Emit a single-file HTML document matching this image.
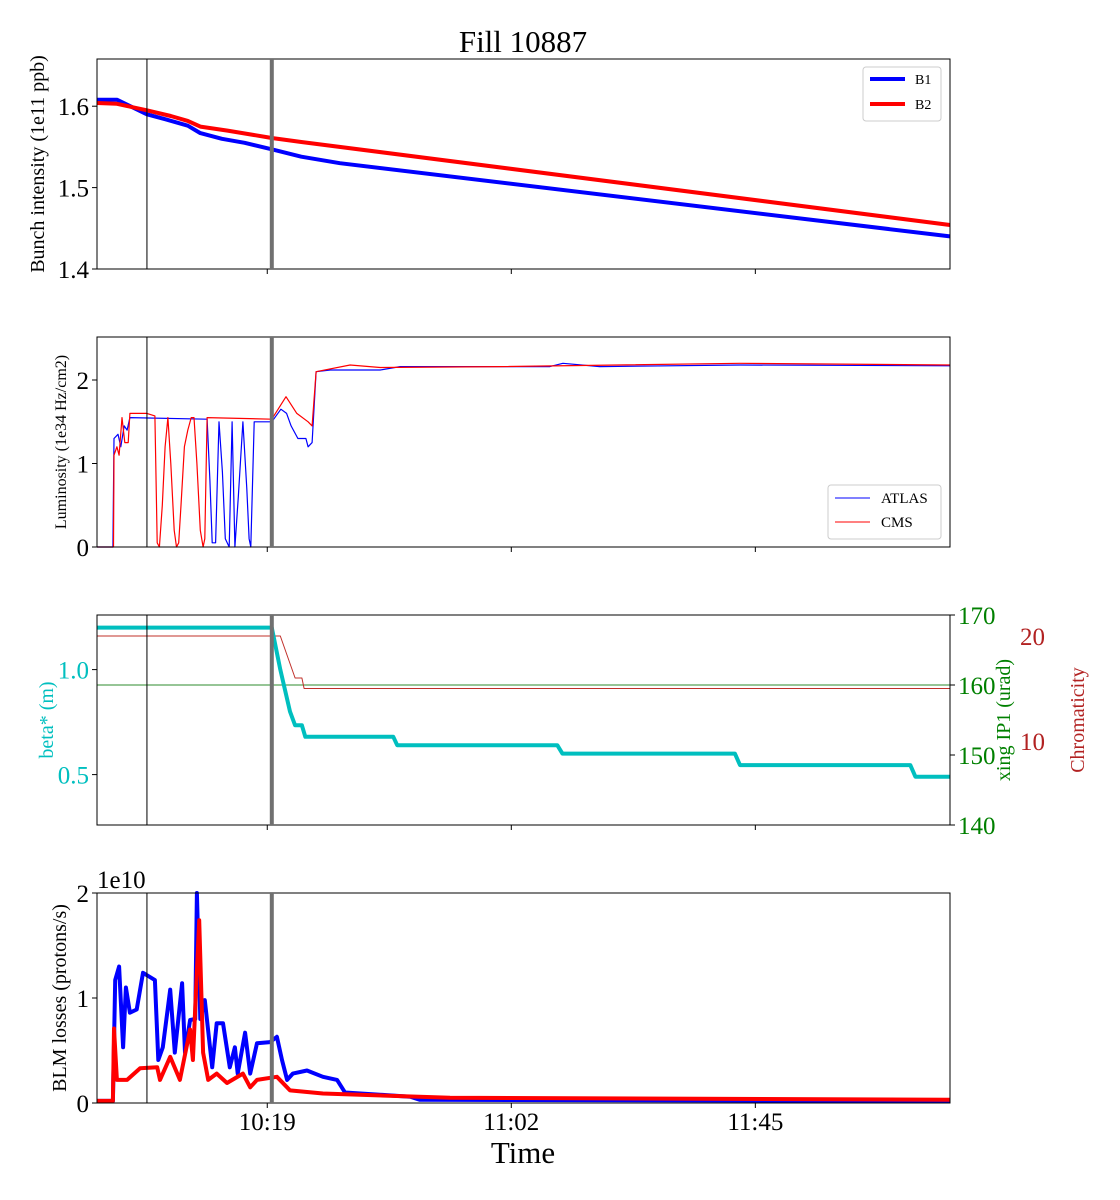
<!DOCTYPE html>
<html><head><meta charset="utf-8"><style>
body{margin:0;background:#fff}
svg{display:block;font-family:"Liberation Serif",serif}
</style></head><body>
<svg id="chart" width="1120" height="1200" viewBox="0 0 1120 1200" xmlns="http://www.w3.org/2000/svg"></svg>
<script>
// time in minutes since 09:49
const xTickTimes = [30, 73, 116];
const xTickLabels = ["10:19", "11:02", "11:45"];
const markerTimes = [8.8, 30.8];

const b1T = [0,3.5,8.8,12,16,18.2,22,26,30.8,36,42.8,150.3];
const b1V = [1.608,1.608,1.590,1.584,1.576,1.567,1.560,1.555,1.547,1.538,1.530,1.440];
const b2T = [0,3.5,8.8,13,16,18.2,23,30.8,36,150.3];
const b2V = [1.604,1.603,1.595,1.588,1.582,1.575,1.570,1.561,1.556,1.454];

const atlasT = [0,2.8,3.0,3.7,4.2,4.8,5.3,5.8,19.4,19.9,20.3,20.9,21.5,22.1,22.6,23.3,23.8,24.3,24.9,25.7,26.4,26.8,27.1,27.7,30.8,32.4,33.4,34.2,35.4,36.8,37.2,37.9,38.6,41.1,49.9,53.4,79.8,82.1,88.6,113.3,150.3];
const atlasV = [0,0,1.3,1.35,1.2,1.45,1.4,1.55,1.53,0.8,0.05,0.05,1.5,0.9,0.1,0,1.5,0,0.6,1.5,0.7,0.1,0,1.5,1.5,1.65,1.6,1.45,1.3,1.3,1.2,1.25,2.1,2.12,2.12,2.16,2.16,2.2,2.16,2.18,2.17];
const cmsT = [0,2.9,3.0,3.5,3.9,4.4,4.9,5.5,5.8,8.8,10.2,10.6,11.0,11.5,12.0,12.5,13.0,13.6,14.0,14.4,14.8,15.4,16.0,16.6,17.1,17.6,18.2,18.7,19.0,19.4,30.8,33.3,35.2,37.2,37.9,38.6,44.6,49.9,71.0,113.3,150.3];
const cmsV = [0,0,1.1,1.2,1.1,1.55,1.25,1.25,1.6,1.6,1.57,0.05,0,0.5,1.2,1.55,1.0,0.2,0,0.05,0.5,1.2,1.4,1.55,1.55,1.0,0.2,0,0.1,1.55,1.53,1.8,1.6,1.5,1.45,2.1,2.18,2.15,2.16,2.2,2.18];

const betaT = [0,30.8,32.3,34.0,34.9,36.1,36.7,52.2,52.9,81.1,82.0,112.4,113.3,143.3,144.2,150.3];
const betaV = [1.2,1.2,1.0,0.8,0.735,0.735,0.68,0.68,0.64,0.64,0.6,0.6,0.545,0.545,0.49,0.49];
const xingT = [0,150.3];
const xingV = [160,160];
const chromaT = [0,30.8,30.8,30.81,32.3,34.9,36.1,36.5,150.3];
const chromaV = [20,20,15,20,20,16,16,15,15];

const blmB1T = [0,2.8,3.2,3.9,4.6,5.1,5.8,7.0,8.1,10.2,10.8,11.6,12.9,13.7,15.0,15.5,16.4,17.3,17.6,18.2,19.0,20.3,21.1,22.2,23.4,24.3,24.8,26.1,27.0,28.2,30.5,31.7,32.6,33.5,34.5,37.0,39.8,42.3,43.7,55.2,56.9,150.3];
const blmB1V = [0.02,0.02,1.17,1.3,0.53,1.1,0.86,0.89,1.24,1.17,0.41,0.53,1.08,0.48,1.14,0.48,0.79,0.8,2.0,0.8,0.98,0.34,0.76,0.76,0.34,0.53,0.28,0.67,0.28,0.57,0.58,0.63,0.41,0.22,0.28,0.31,0.25,0.22,0.1,0.06,0.03,0.02];
const blmB2T = [0,2.8,3.0,3.5,5.3,7.6,10.6,11.1,12.9,14.6,16.4,16.9,18.0,18.7,19.6,21.1,22.9,25.7,27.0,28.2,31.7,34.0,39.8,62.2,150.3];
const blmB2V = [0.02,0.02,0.71,0.22,0.22,0.33,0.34,0.22,0.44,0.22,0.7,0.41,1.74,0.48,0.22,0.28,0.19,0.28,0.15,0.22,0.25,0.12,0.09,0.05,0.03];

const svg = document.getElementById('chart');
const NS = "http://www.w3.org/2000/svg";
const X0 = 97, X1 = 950, T0 = 0, T1 = 150.3;
function xs(t){ return X0 + (t - T0) / (T1 - T0) * (X1 - X0); }
function mk(tag, attrs, parent){
  const e = document.createElementNS(NS, tag);
  for (const k in attrs) e.setAttribute(k, attrs[k]);
  (parent || svg).appendChild(e);
  return e;
}
function txt(s, attrs){ const e = mk('text', attrs); e.textContent = s; return e; }
function ys(top, bot, lo, hi){ return v => bot - (v - lo) / (hi - lo) * (bot - top); }
function series(T, V, y, color, w, name){
  const pts = T.map((t, i) => xs(t).toFixed(1) + ',' + y(V[i]).toFixed(1)).join(' ');
  const p = mk('polyline', {points: pts, fill: 'none', stroke: color, 'stroke-width': w, 'stroke-linejoin': 'round'});
  
  
}
function frame(top, bot, name){
  for (const mt of markerTimes.slice(0,1)) {
    const l = mk('line', {x1: xs(mt), x2: xs(mt), y1: top, y2: bot, stroke: '#000', 'stroke-width': 1});
    
    
  }
  const r = mk('rect', {x: X0, y: top, width: X1 - X0, height: bot - top, fill: 'none', stroke: '#000', 'stroke-width': 1});
  
  
  xTickTimes.forEach(t => mk('line', {x1: xs(t), x2: xs(t), y1: bot, y2: bot + 5, stroke: '#000'}));
}
function thick(top, bot, name){
  const l = mk('line', {x1: xs(markerTimes[1]), x2: xs(markerTimes[1]), y1: top, y2: bot, stroke: '#707070', 'stroke-width': 4});
  
  
}
function yticks(vals, y, labels, color, side, size){
  vals.forEach((v, i) => {
    const yy = y(v);
    if (side === 'left') {
      mk('line', {x1: X0 - 5, x2: X0, y1: yy, y2: yy, stroke: '#000'});
      txt(labels[i], {x: X0 - 8, y: yy + 9, 'text-anchor': 'end', 'font-size': size, fill: color});
    } else {
      mk('line', {x1: X1, x2: X1 + 5, y1: yy, y2: yy, stroke: '#000'});
      txt(labels[i], {x: side, y: yy + 9, 'font-size': size, fill: color});
    }
  });
}
function ylabel(s, x, cy, size, color, name){
  const e = txt(s, {x: x, y: cy, 'text-anchor': 'middle', 'font-size': size, fill: color, transform: `rotate(-90 ${x} ${cy})`});
  
  
}

const title = txt('Fill 10887', {x: 523, y: 52, 'text-anchor': 'middle', 'font-size': 31});



// Panel 1
let y1 = ys(59, 269, 1.4, 1.658);
series(b1T, b1V, y1, '#0000ff', 4, 'b1-line');
series(b2T, b2V, y1, '#ff0000', 4, 'b2-line');
frame(59, 269, 'intensity'); thick(59, 269, 'intensity');
yticks([1.4,1.5,1.6], y1, ['1.4','1.5','1.6'], '#000', 'left', 25);
ylabel('Bunch intensity (1e11 ppb)', 44, 164, 20, '#000', 'intensity-y-title');
let lg = mk('rect', {x: 863, y: 67, width: 78, height: 54, rx: 3, fill: '#fff', stroke: '#ccc'});
 
mk('line', {x1: 870, x2: 905, y1: 79, y2: 79, stroke: '#0000ff', 'stroke-width': 4});
txt('B1', {x: 915, y: 84, 'font-size': 14});
mk('line', {x1: 870, x2: 905, y1: 104, y2: 104, stroke: '#ff0000', 'stroke-width': 4});
txt('B2', {x: 915, y: 109, 'font-size': 14});

// Panel 2
let y2 = ys(337, 547, 0, 2.515);
series(atlasT, atlasV, y2, '#0000ff', 1.2, 'atlas-line');
series(cmsT, cmsV, y2, '#ff0000', 1.2, 'cms-line');
frame(337, 547, 'lumi'); thick(337, 547, 'lumi');
yticks([0,1,2], y2, ['0','1','2'], '#000', 'left', 25);
ylabel('Luminosity (1e34 Hz/cm2)', 66, 442, 16, '#000', 'lumi-y-title');
lg = mk('rect', {x: 828, y: 485, width: 113, height: 54, rx: 3, fill: '#fff', stroke: '#ccc'});
 
mk('line', {x1: 835, x2: 870, y1: 498, y2: 498, stroke: '#0000ff', 'stroke-width': 1});
txt('ATLAS', {x: 881, y: 503, 'font-size': 15});
mk('line', {x1: 835, x2: 870, y1: 522, y2: 522, stroke: '#ff0000', 'stroke-width': 1});
txt('CMS', {x: 881, y: 527, 'font-size': 15});

// Panel 3
let yb = ys(615, 825, 0.26, 1.26);
let yx = ys(615, 825, 140, 170);
let yc = v => 741 - (v - 10) * 10.5;
series(xingT, xingV, yx, '#2e8b2e', 1, 'xing-line');
series(chromaT, chromaV, yc, '#c0302a', 1, 'chroma-line');
series(betaT, betaV, yb, '#00bfbf', 4, 'beta-line');
frame(615, 825, 'optics'); thick(615, 825, 'optics');
yticks([0.5,1.0], yb, ['0.5','1.0'], '#00bfbf', 'left', 25);
yticks([140,150,160,170], yx, ['140','150','160','170'], '#008000', 958, 25);
[10,20].forEach(v => txt(String(v), {x: 1020, y: yc(v) + 9, 'font-size': 25, fill: '#b22222'}));
ylabel('beta* (m)', 53, 720, 20, '#00bfbf', 'beta-y-title');
ylabel('xing IP1 (urad)', 1010, 720, 20, '#008000', 'xing-y-title');
ylabel('Chromaticity', 1084, 720, 20, '#b22222', 'chroma-y-title');

// Panel 4
let y4 = ys(893, 1103, 0, 2.0);
series(blmB1T, blmB1V, y4, '#0000ff', 4, 'blm-b1-line');
series(blmB2T, blmB2V, y4, '#ff0000', 4, 'blm-b2-line');
frame(893, 1103, 'blm'); thick(893, 1103, 'blm');
yticks([0,1,2], y4, ['0','1','2'], '#000', 'left', 25);
txt('1e10', {x: 97, y: 888, 'font-size': 25});
ylabel('BLM losses (protons/s)', 66, 998, 20, '#000', 'blm-y-title');
xTickTimes.forEach((t, i) => {
  const e = txt(xTickLabels[i], {x: xs(t), y: 1130, 'text-anchor': 'middle', 'font-size': 25});
  
  
});
const xt = txt('Time', {x: 523, y: 1163, 'text-anchor': 'middle', 'font-size': 31});


</script>
</body></html>
